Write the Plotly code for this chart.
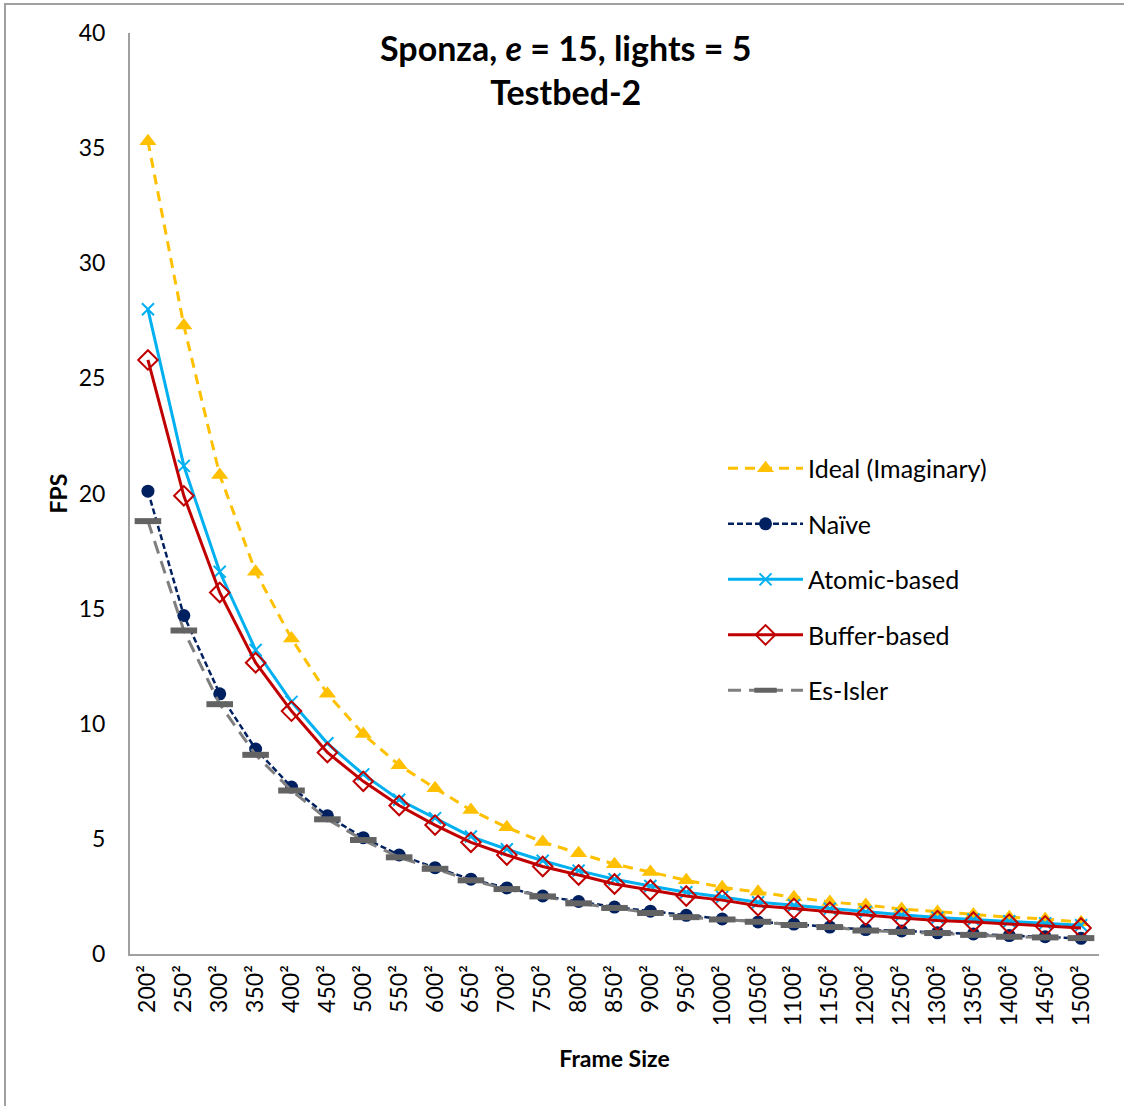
import plotly.graph_objects as go

# Frame sizes (side length, squared)
frame_sides = [200, 250, 300, 350, 400, 450, 500, 550, 600, 650, 700, 750, 800, 850,
               900, 950, 1000, 1050, 1100, 1150, 1200, 1250, 1300, 1350, 1400, 1450, 1500]
frame_labels = [f"{s}²" for s in frame_sides]

# FPS per method
ideal = [35.3, 27.3, 20.8, 16.6, 13.7, 11.3, 9.55, 8.2, 7.2, 6.25, 5.5, 4.86, 4.38, 3.9,
         3.56, 3.2, 2.9, 2.7, 2.47, 2.26, 2.13, 1.95, 1.82, 1.72, 1.6, 1.52, 1.38]
naive = [20.1, 14.7, 11.3, 8.9, 7.25, 6.0, 5.05, 4.3, 3.75, 3.25, 2.87, 2.52, 2.28, 2.04,
         1.86, 1.68, 1.52, 1.39, 1.3, 1.17, 1.06, 1.0, 0.92, 0.87, 0.8, 0.75, 0.68]
atomic = [28.0, 21.2, 16.6, 13.2, 10.95, 9.15, 7.8, 6.7, 5.9, 5.1, 4.55, 4.05, 3.62, 3.25,
          2.95, 2.68, 2.48, 2.25, 2.12, 1.97, 1.83, 1.7, 1.58, 1.5, 1.42, 1.33, 1.25]
buffer_based = [25.8, 19.9, 15.7, 12.65, 10.55, 8.75, 7.5, 6.45, 5.6, 4.85, 4.3, 3.8, 3.43, 3.04,
                2.78, 2.52, 2.34, 2.1, 1.98, 1.82, 1.69, 1.56, 1.45, 1.39, 1.3, 1.22, 1.13]
es_isler = [18.8, 14.05, 10.85, 8.65, 7.1, 5.85, 4.95, 4.2, 3.7, 3.2, 2.82, 2.5, 2.2, 2.0,
            1.78, 1.6, 1.5, 1.4, 1.26, 1.17, 1.02, 0.96, 0.91, 0.83, 0.75, 0.72, 0.69]

FONT = "Lato, 'Open Sans', sans-serif"

fig = go.Figure()

fig.add_trace(go.Scatter(
    x=frame_labels, y=ideal, name="Ideal (Imaginary)", mode="lines+markers",
    legendgroup="g1",
    line=dict(color="#FFC000", width=3, dash="10px,7px"),
    marker=dict(symbol="triangle-up", size=15, color="#FFC000"),
))
fig.add_trace(go.Scatter(
    x=frame_labels, y=naive, name="Naïve", mode="lines+markers",
    legendgroup="g2",
    line=dict(color="#002060", width=2.5, dash="6px,3px"),
    marker=dict(symbol="circle", size=13, color="#002060"),
))
fig.add_trace(go.Scatter(
    x=frame_labels, y=atomic, name="Atomic-based", mode="lines+markers",
    legendgroup="g3",
    line=dict(color="#00B0F0", width=3),
    marker=dict(symbol="x-thin-open", size=12, color="#00B0F0",
                line=dict(color="#00B0F0", width=2)),
))
fig.add_trace(go.Scatter(
    x=frame_labels, y=buffer_based, name="Buffer-based", mode="lines+markers",
    legendgroup="g4",
    line=dict(color="#C00000", width=3),
    marker=dict(symbol="diamond-open", size=15, color="#C00000",
                line=dict(color="#C00000", width=2)),
))
fig.add_trace(go.Scatter(
    x=frame_labels, y=es_isler, name="Es-Isler", mode="lines+markers",
    legendgroup="g5",
    line=dict(color="#7F7F7F", width=3, dash="13px,8px"),
    marker=dict(symbol="line-ew", size=19, color="#636363",
                line=dict(color="#636363", width=6)),
))

fig.update_layout(
    width=1124, height=1106,
    margin=dict(l=130, r=25, t=33, b=152),
    paper_bgcolor="white", plot_bgcolor="white",
    font=dict(family=FONT, size=23, color="#000000"),
    showlegend=True,
    legend=dict(
        x=0.612, y=0.552, xanchor="left", yanchor="top",
        font=dict(family=FONT, size=25, color="#000000"),
        bgcolor="rgba(0,0,0,0)", tracegroupgap=20, itemwidth=75,
    ),
    xaxis=dict(
        type="category",
        title=dict(text="<b>Frame Size</b>", font=dict(size=23), standoff=26),
        showline=True, linecolor="#A0A0A0", linewidth=2,
        showgrid=False, ticks="", tickangle=-90,
        tickfont=dict(size=23),
        range=[-0.5, len(frame_labels) - 0.5],
    ),
    yaxis=dict(
        title=dict(text="<b>FPS</b>", font=dict(size=23), standoff=5),
        range=[0, 40], dtick=5,
        showline=True, linecolor="#A0A0A0", linewidth=2,
        showgrid=False, zeroline=False, ticks="",
        tickfont=dict(size=23), ticklabelstandoff=18,
    ),
    annotations=[dict(
        text="<b>Sponza, <i>e</i> = 15, lights = 5<br>Testbed-2</b>",
        xref="paper", yref="paper", x=0.449, y=1.0085,
        xanchor="center", yanchor="top", showarrow=False,
        font=dict(family=FONT, size=34, color="#000000"),
    )],
    shapes=[dict(
        type="rect", xref="paper", yref="paper",
        x0=-0.129, x1=1.3, y0=-0.3, y1=1.0315,
        line=dict(color="#A0A0A0", width=2), layer="below",
    )],
)

fig.write_html("out.html")
